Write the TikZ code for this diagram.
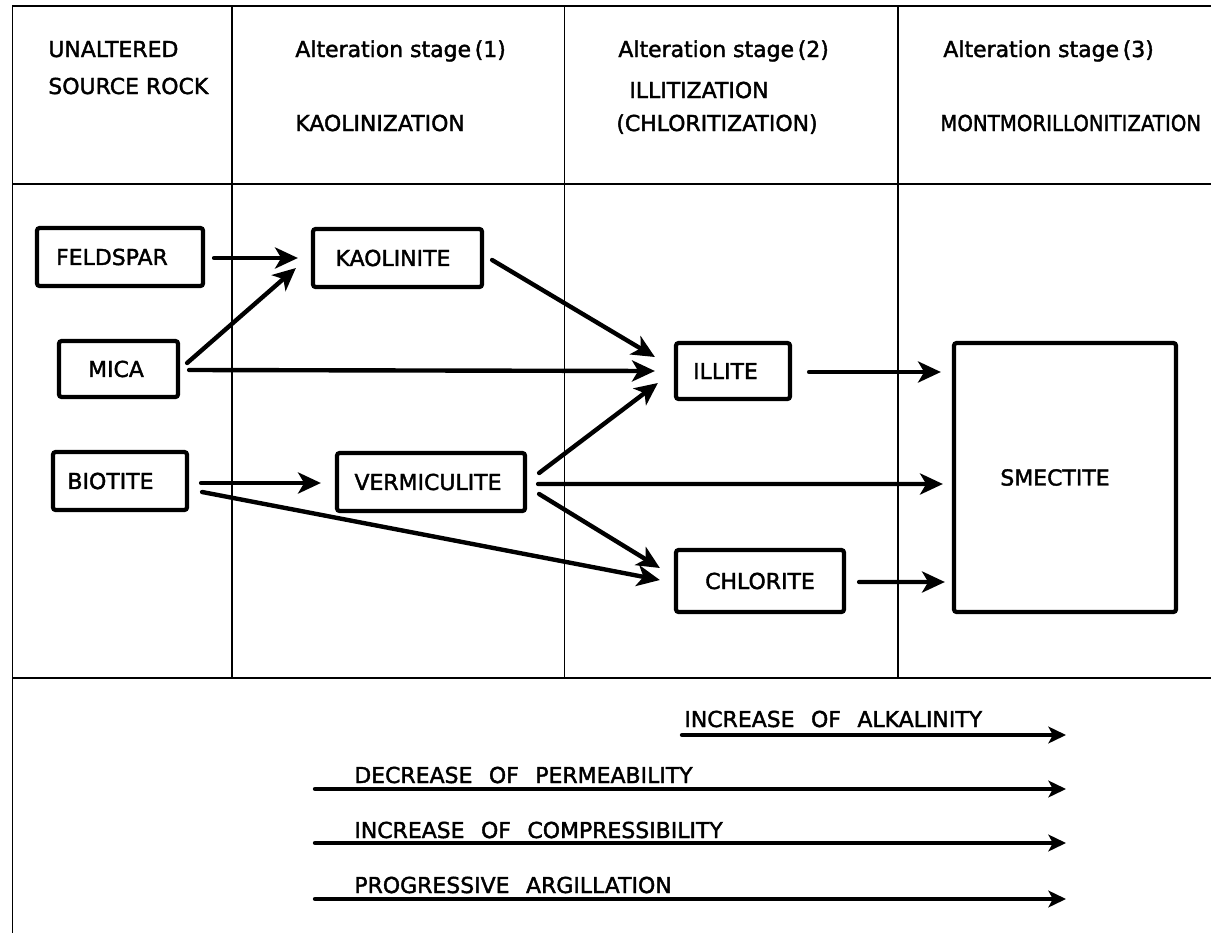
\documentclass[tikz,border=0pt]{standalone}
\usepackage{fontspec}
\setmainfont{DejaVu Sans}
\newfontfamily\stencil{DejaVu Sans}[FakeBold=1.8]
\usepackage{graphicx}
\usetikzlibrary{arrows.meta}
\newlength{\pxu}
\setlength{\pxu}{0.02cm}
\newcommand{\lettering}{\stencil\fontsize{12.5pt}{15pt}\selectfont}
\newcommand{\trendlettering}{\lettering\spaceskip 0.75em plus 0.1em\relax}
% moves a centred label left by half the given amount
\newcommand{\labelnudge}[1]{\hspace*{-#1\pxu}}
\begin{document}
\begin{tikzpicture}[x=0.02cm, y=-0.02cm,
  hrule/.style={line width=1.3pt},
  vrule/.style={line width=0.9pt},
  mineral/.style={draw, line width=2.4pt, rounded corners=1.5pt, inner sep=0pt, font=\lettering},
  flow/.style={line width=2.5pt, line cap=round, -{Stealth[length=13pt,width=12pt,inset=3.5pt]}},
  trend/.style={line width=2.5pt, line cap=round, -{Stealth[length=10pt,width=9.5pt,inset=2.5pt]}},
  head/.style={anchor=base west, inner sep=0pt, font=\lettering},
  trendlabel/.style={anchor=base west, inner sep=0pt, font=\trendlettering},
]
\useasboundingbox (0,0) rectangle (1211,933);

% table frame
\draw[vrule] (12.5,933) -- (12.5,6);
\draw[hrule] (12,6) -- (1211,6);
\draw[hrule] (12,184) -- (1211,184);
\draw[hrule] (12,678) -- (1211,678);
\foreach \x in {232,564.5,898} \draw[vrule] (\x,6) -- (\x,678);

% column headings
\node[head] (h0a) at (48,57) {UNALTERED};
\node[head] (h0b) at (48,94) {SOURCE ROCK};
\node[head] (h1a) at (295,57) {Alteration stage\,(1)};
\node[head] (h1b) at (295,131) {KAOLINIZATION};
\node[head] (h2a) at (618,57) {Alteration stage\,(2)};
\node[head] (h2b) at (629,98) {ILLITIZATION};
\node[head] (h2c) at (616,131) {(CHLORITIZATION)};
\node[head] (h3a) at (943,57) {Alteration stage\,(3)};
\node[head] (h3b) at (940,131) {\scalebox{0.9}[1]{MONTMORILLONITIZATION}};

% minerals
\node[mineral, minimum width=166\pxu, minimum height=58\pxu] (feld) at (120,257) {\labelnudge{16}FELDSPAR};
\node[mineral, minimum width=169\pxu, minimum height=58\pxu] (kaol) at (397.5,258) {\labelnudge{9}KAOLINITE};
\node[mineral, minimum width=119\pxu, minimum height=56\pxu] (mica) at (118.5,369) {\labelnudge{5}MICA};
\node[mineral, minimum width=134\pxu, minimum height=58\pxu] (biot) at (120,481) {\labelnudge{19}BIOTITE};
\node[mineral, minimum width=188\pxu, minimum height=58\pxu] (verm) at (431,482) {\labelnudge{6}VERMICULITE};
\node[mineral, minimum width=114\pxu, minimum height=56\pxu] (illi) at (733,371) {\labelnudge{15}ILLITE};
\node[mineral, minimum width=168\pxu, minimum height=62\pxu] (chlo) at (760,581) {CHLORITE};
\node[mineral, minimum width=222\pxu, minimum height=269\pxu] (smec) at (1065,477.5) {\labelnudge{20}SMECTITE};

% alteration paths
\draw[flow] ([shift={(9,1)}]feld.east) -- ([shift={(-13,0)}]kaol.west);
\draw[flow] ([shift={(7,-6)}]mica.east) -- ([shift={(-15,10)}]kaol.west);
\draw[flow] ([shift={(9,1)}]mica.east) -- ([shift={(-19,0)}]illi.west);
\draw[flow] ([shift={(8,2)}]kaol.east) -- ([shift={(-19,-14)}]illi.west);
\draw[flow] ([shift={(12,2)}]biot.east) -- ([shift={(-14,1)}]verm.west);
\draw[flow] ([shift={(13,11)}]biot.east) -- ([shift={(-14,-1)}]chlo.west);
\draw[flow] ([shift={(12,-9)}]verm.east) -- ([shift={(-16,12)}]illi.west);
\draw[flow] ([shift={(11,2)}]verm.east) -- ([shift={(-9,6.5)}]smec.west);
\draw[flow] ([shift={(12,12)}]verm.east) -- ([shift={(-14,-13)}]chlo.west);
\draw[flow] ([shift={(17,1)}]illi.east) -- ([shift={(-11,-105.5)}]smec.west);
\draw[flow] ([shift={(13,1)}]chlo.east) -- ([shift={(-7,104.5)}]smec.west);

% trends
\node[trendlabel] (t1) at (684,727) {INCREASE OF ALKALINITY};
\node[trendlabel] (t2) at (354,783) {DECREASE OF PERMEABILITY};
\node[trendlabel] (t3) at (354,838) {INCREASE OF COMPRESSIBILITY};
\node[trendlabel] (t4) at (354,893) {PROGRESSIVE ARGILLATION};
\coordinate (t1s) at (682,735);  \coordinate (t1e) at (1066,735);
\coordinate (t2s) at (315,789);  \coordinate (t2e) at (1066,789);
\coordinate (t3s) at (315,843);  \coordinate (t3e) at (1066,843);
\coordinate (t4s) at (315,899);  \coordinate (t4e) at (1066,899);
\draw[trend] (t1s) -- (t1e);
\draw[trend] (t2s) -- (t2e);
\draw[trend] (t3s) -- (t3e);
\draw[trend] (t4s) -- (t4e);
\end{tikzpicture}
\end{document}
